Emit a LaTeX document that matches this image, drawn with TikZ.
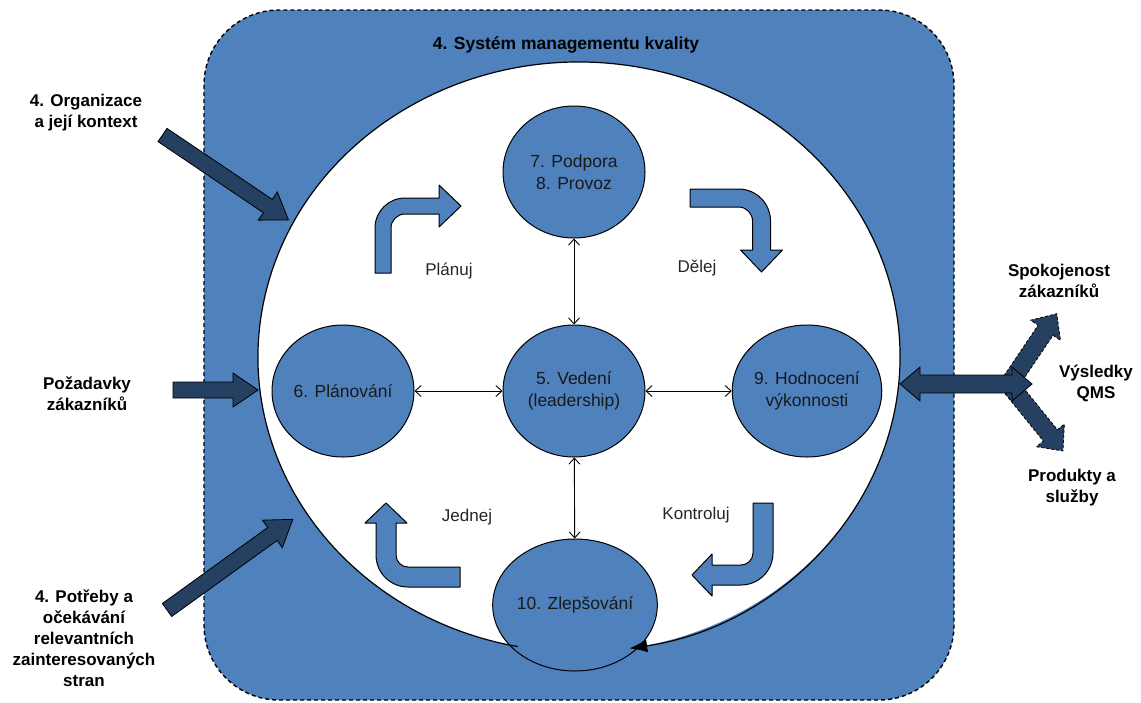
\documentclass[tikz,border=0pt]{standalone}
\usepackage{fontspec}
\setmainfont{Liberation Sans}
\usetikzlibrary{arrows.meta,shapes.geometric}
\definecolor{qblue}{HTML}{4F81BD}
\definecolor{qdark}{HTML}{254061}

\begin{document}
\begin{tikzpicture}[x=1pt,y=-1pt,
  phase/.style={ellipse, draw=black, line width=1pt, fill=qblue,
    minimum width=142pt, minimum height=132pt, inner sep=0pt,
    align=center, text=black!90, font=\fontsize{17.5}{22}\selectfont},
  link/.style={{Straight Barb[length=6pt,width=11pt]}-{Straight Barb[length=6pt,width=11pt]},
    line width=0.9pt},
  outer/.style={align=center, inner sep=0pt, font=\fontsize{17}{21}\selectfont\bfseries},
  cyclelabel/.style={inner sep=0pt, text=black!85, font=\fontsize{17}{20}\selectfont},
  bent/.style={fill=qblue, draw=black, line width=1pt, line join=round},
  bigarrow/.style={fill=qdark, draw=black, line width=0.8pt, line join=miter},
]
\useasboundingbox (0,0) rectangle (1141,702);

% quality management system frame
\draw[fill=qblue, line width=1.4pt, dash pattern=on 4pt off 3pt, rounded corners=75pt]
  (204,10) rectangle (954,700);
\node[outer, font=\fontsize{17.5}{21}\selectfont\bfseries] (qms) at (566,45)
  {4. Systém managementu kvality};

% the PDCA cycle area
\fill[white] (579,357) ellipse [x radius=321, y radius=295];

% bent arrows of the cycle
\draw[bent] (375,273) -- (375,228) arc[start angle=180, end angle=270, radius=30]
  -- (439,198) -- (439,185) -- (461,206) -- (439,227) -- (439,214) -- (405,214)
  arc[start angle=270, end angle=180, radius=14] -- (391,273) -- cycle;
\draw[bent] (690,189) -- (738.5,189) arc[start angle=270, end angle=360, radius=32]
  -- (770.5,250) -- (782.5,250) -- (761.5,272) -- (740.5,250) -- (752.5,250)
  -- (752.5,221) arc[start angle=0, end angle=-90, radius=14] -- (690,207) -- cycle;
\draw[bent] (460,567) -- (408,567) arc[start angle=90, end angle=180, radius=12]
  -- (396,523) -- (407,523) -- (386,503) -- (365,523) -- (376,523) -- (376,555)
  arc[start angle=180, end angle=90, radius=32] -- (460,587) -- cycle;
\draw[bent] (753,503) -- (773,503) -- (773,553) arc[start angle=0, end angle=90, radius=32]
  -- (712,585) -- (712,596) -- (692,575) -- (712,554) -- (712,565) -- (741,565)
  arc[start angle=90, end angle=0, radius=12] -- cycle;

\node[cyclelabel] (lplan) at (449,271) {Plánuj};
\node[cyclelabel] (ldo) at (697,268) {Dělej};
\node[cyclelabel] (lact) at (467,517) {Jednej};
\node[cyclelabel] (lcheck) at (696,515) {Kontroluj};

% clauses
\node[phase] (sup) at (574,172) {7. Podpora\\8. Provoz};
\node[phase] (lead) at (574,391) {5. Vedení\\(leadership)};
\node[phase] (plan) at (343,391) {6. Plánování};
\node[phase] (eval) at (807,391) {9. Hodnocení\\výkonnosti};
\node[phase] (impr) at (575,605) {10. Zlepšování};

% circulating outline of the cycle area, ending at the improvement circle
\draw[line width=1.2pt, -{Latex[length=18pt,width=13pt]}]
  (517.75,646.6) arc[start angle=101, end angle=441, x radius=321, y radius=295];

\draw[link] (plan) -- (lead);
\draw[link] (lead) -- (eval);
\draw[link] (sup) -- (lead);
\draw[link] (lead) -- (impr);

% inputs
\begin{scope}[shift={(162.5,135)}, rotate=-34]
  \draw[bigarrow] (0,8) -- (127,8) -- (127,17) -- (152,0) -- (127,-17) -- (127,-8) -- (0,-8) -- cycle;
\end{scope}
\begin{scope}[shift={(173,390)}]
  \draw[bigarrow] (0,8) -- (60,8) -- (60,17) -- (85,0) -- (60,-17) -- (60,-8) -- (0,-8) -- cycle;
\end{scope}
\begin{scope}[shift={(167,610)}, rotate=35.8]
  \draw[bigarrow] (0,8) -- (130,8) -- (130,17) -- (155,0) -- (130,-17) -- (130,-8) -- (0,-8) -- cycle;
\end{scope}

% outputs
\begin{scope}[shift={(1012,380)}, rotate=56]
  \draw[bigarrow, dash pattern=on 3pt off 2pt] (0,9) -- (60,9) -- (60,18) -- (80,0) -- (60,-18) -- (60,-9) -- (0,-9) -- cycle;
\end{scope}
\begin{scope}[shift={(1012,388)}, rotate=-51]
  \draw[bigarrow, dash pattern=on 3pt off 2pt] (0,9) -- (61,9) -- (61,18) -- (81,0) -- (61,-18) -- (61,-9) -- (0,-9) -- cycle;
\end{scope}
\draw[bigarrow] (900,384) -- (920,367) -- (920,375) -- (1012,375) -- (1012,367) -- (1032,384)
  -- (1012,401) -- (1012,393) -- (920,393) -- (920,401) -- cycle;

% external labels
\node[outer] (ctx) at (86,113) {4. Organizace\\a její kontext};
\node[outer] (req) at (87,394) {Požadavky\\zákazníků};
\node[outer] (needs) at (84,638) {4. Potřeby a\\očekávání\\relevantních\\zainteresovaných\\stran};
\node[outer] (sat) at (1059,281) {Spokojenost\\zákazníků};
\node[outer] (res) at (1096,383) {Výsledky\\QMS};
\node[outer] (prod) at (1072,488) {Produkty a\\služby};
\end{tikzpicture}
\end{document}
